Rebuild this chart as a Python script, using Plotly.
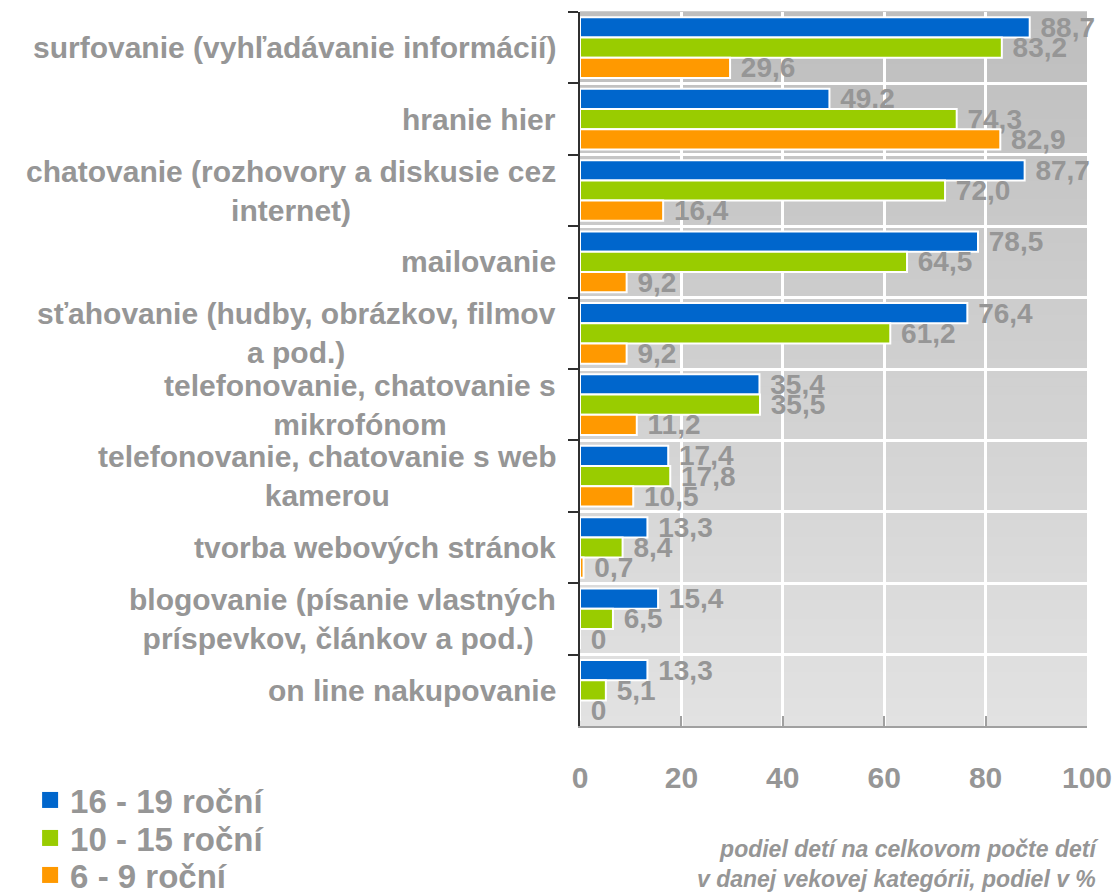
import plotly.graph_objects as go

categories = [
    "surfovanie (vyhľadávanie informácií)",
    "hranie hier",
    "chatovanie (rozhovory a diskusie cez<br>internet)",
    "mailovanie",
    "sťahovanie (hudby, obrázkov, filmov<br>a pod.)",
    "telefonovanie, chatovanie s<br>mikrofónom",
    "telefonovanie, chatovanie s web<br>kamerou",
    "tvorba webových stránok",
    "blogovanie (písanie vlastných<br>príspevkov, článkov a pod.) ",
    "on line nakupovanie",
]

series_names = ["16 - 19 roční", "10 - 15 roční", "6 - 9 roční"]
vals_16_19 = [88.7, 49.2, 87.7, 78.5, 76.4, 35.4, 17.4, 13.3, 15.4, 13.3]
vals_10_15 = [83.2, 74.3, 72.0, 64.5, 61.2, 35.5, 17.8, 8.4, 6.5, 5.1]
vals_6_9 = [29.6, 82.9, 16.4, 9.2, 9.2, 11.2, 10.5, 0.7, 0.0, 0.0]
series_values = [vals_16_19, vals_10_15, vals_6_9]
series_colors = ["#0066CC", "#99CC00", "#FF9900"]

x_ticks = [0, 20, 40, 60, 80, 100]
axis_note = "podiel detí na celkovom počte detí<br>v danej vekovej kategórii, podiel v %"

GRAY = "#969696"
FONT = "Liberation Sans"


def fmt(v):
    if v == 0:
        return " 0"
    return " " + f"{v:.1f}".replace(".", ",")


fig = go.Figure()

for name, vals, col in zip(series_names, series_values, series_colors):
    fig.add_trace(go.Bar(
        y=categories, x=vals, orientation="h", name=name,
        marker=dict(color=col, line=dict(color="white", width=2)),
        text=[fmt(v) for v in vals], textposition="outside",
        textfont=dict(family=FONT, size=28, color=GRAY, weight="bold"),
        cliponaxis=False, constraintext="none", showlegend=False,
        hoverinfo="skip",
    ))

# legend entries (square markers), one legend per series for exact spacing
legend_ids = ["legend", "legend2", "legend3"]
for name, col, lid in zip(series_names, series_colors, legend_ids):
    fig.add_trace(go.Scatter(
        x=[None], y=[None], mode="markers", name=name,
        marker=dict(symbol="square", size=16, color=col),
        showlegend=True, legend=lid,
    ))

# background gradient strips
shapes = []
N = 80
for i in range(N):
    t = (i + 0.5) / N  # 0 at top
    c = int(round(190 + 36 * t))
    shapes.append(dict(
        type="rect", xref="paper", yref="paper", x0=0, x1=1,
        y0=1 - (i + 1) / N, y1=1 - i / N + 0.001,
        fillcolor=f"rgb({c},{c},{c})", line=dict(width=0), layer="below",
    ))

annotations = []
for cat in categories:
    annotations.append(dict(
        xref="paper", yref="y", x=0, y=cat, xanchor="right", yanchor="middle",
        xshift=-22, text=cat, showarrow=False, align="center",
        font=dict(family=FONT, size=30, color=GRAY, weight="bold"),
    ))

annotations.append(dict(
    xref="paper", yref="paper", x=1.0256, y=-0.193, xanchor="right",
    yanchor="middle", text=axis_note, showarrow=False, align="right",
    font=dict(family=FONT, size=23, color=GRAY, weight="bold", style="italic"),
))

legend_centers_px = [800, 838, 875]
legend_layouts = {}
for lid, cy in zip(legend_ids, legend_centers_px):
    legend_layouts[lid] = dict(
        xref="container", yref="container", x=0.027, y=(892 - cy) / 892,
        xanchor="left", yanchor="middle",
        font=dict(family=FONT, size=33, color=GRAY, weight="bold"),
        bgcolor="rgba(0,0,0,0)", borderwidth=0,
    )

fig.update_layout(
    width=1115, height=892,
    margin=dict(l=580, r=28, t=12, b=166, autoexpand=False),
    paper_bgcolor="white", plot_bgcolor="#d0d0d0",
    barmode="group", bargap=0.15, bargroupgap=0,
    shapes=shapes, annotations=annotations,
    font=dict(family=FONT, color=GRAY),
    **legend_layouts,
)

fig.update_xaxes(
    range=[0, 100], tickvals=x_ticks, ticktext=[str(t) for t in x_ticks],
    showgrid=True, gridcolor="white", gridwidth=3, zeroline=False,
    showline=True, linecolor="#a0a0a0", linewidth=2,
    ticks="inside", ticklen=10, tickwidth=2, tickcolor="#a0a0a0",
    tickfont=dict(family=FONT, size=30, color=GRAY, weight="bold"),
    ticklabelstandoff=24, automargin=False,
)

fig.update_yaxes(
    categoryorder="array", categoryarray=categories, autorange="reversed",
    tickson="boundaries", showgrid=True, gridcolor="white", gridwidth=3,
    showline=True, linecolor="#303030", linewidth=2,
    ticks="outside", ticklen=10, tickwidth=2, tickcolor="#303030",
    showticklabels=False, zeroline=False, automargin=False,
)

fig.write_html("out.html", config={"displayModeBar": False},
               post_script="document.body.style.margin='0';")
